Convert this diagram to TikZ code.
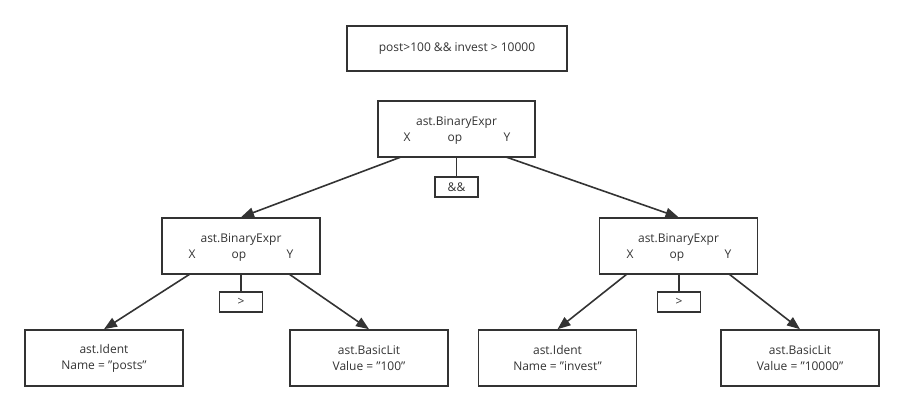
\documentclass[tikz,border=0pt]{standalone}
\usepackage{fontspec}
\setmainfont{Open Sans}
\usetikzlibrary{arrows.meta}
\definecolor{ink}{HTML}{333333}
\definecolor{txt}{HTML}{333333}
\newcommand{\qq}{\symbol{34}}
\begin{document}
\begin{tikzpicture}[x=1pt,y=-1pt,
  box/.style={draw=ink,line width=1.6pt,rectangle,inner sep=0pt,text=txt,font=\fontsize{12}{16}\selectfont,align=center},
  lbl/.style={inner sep=0pt,text=txt,font=\fontsize{12}{14}\selectfont,text height=9pt,text depth=3pt},
  link/.style={draw=ink,line width=1.6pt},
  arr/.style={link,-{Triangle[length=13pt,width=10pt]}}]
\useasboundingbox (0,0) rectangle (904,411);
% top expression
\node[box,minimum width=220pt,minimum height=45pt] (expr) at (457,48.5) {post>100 \&\& invest > 10000};
% root
\node[box,minimum width=157pt,minimum height=56pt] (root) at (456.5,129) {};
\node[lbl] (rt) at (456.5,123) {ast.BinaryExpr};
\node[lbl] (rx) at (407,139) {X};
\node[lbl] (rop) at (455,139) {op};
\node[lbl] (ry) at (507,139) {Y};
\node[box,minimum width=43pt,minimum height=20pt] (ramp) at (456.5,187) {\&\&};
\coordinate (rxs) at (401,157);
\coordinate (rys) at (506,157);
% left binary
\node[box,minimum width=158pt,minimum height=56pt] (lb) at (241,246) {};
\node[lbl] (lbt) at (241,240) {ast.BinaryExpr};
\node[lbl] (lbx) at (192,256) {X};
\node[lbl] (lbop) at (239,256) {op};
\node[lbl] (lby) at (290,256) {Y};
\node[box,minimum width=43pt,minimum height=20pt] (lgt) at (241,302) {>};
\coordinate (lbxs) at (190,274);
\coordinate (lbys) at (289,274);
% right binary
\node[box,minimum width=158pt,minimum height=56pt] (rb) at (678.5,246) {};
\node[lbl] (rbt) at (678.5,240) {ast.BinaryExpr};
\node[lbl] (rbx) at (630,256) {X};
\node[lbl] (rbop) at (677,256) {op};
\node[lbl] (rby) at (728,256) {Y};
\node[box,minimum width=43pt,minimum height=20pt] (rgt) at (679,302) {>};
\coordinate (rbxs) at (627,274);
\coordinate (rbys) at (729,274);
% leaves
\node[box,minimum width=158pt,minimum height=56pt] (li) at (104,358) {ast.Ident\\Name = \qq posts\qq};
\node[box,minimum width=158pt,minimum height=56pt] (ll) at (369,358) {ast.BasicLit\\Value = \qq 100\qq};
\node[box,minimum width=158pt,minimum height=56pt] (ri) at (557.5,358) {ast.Ident\\Name = \qq invest\qq};
\node[box,minimum width=158pt,minimum height=56pt] (rl) at (800,358) {ast.BasicLit\\Value = \qq 10000\qq};
% connectors
\draw[link] (root.south -| ramp.north) -- (ramp.north);
\draw[link] (lb.south -| lgt.north) -- (lgt.north);
\draw[link] (rb.south -| rgt.north) -- (rgt.north);
\draw[arr] (rxs) -- (lb.north);
\draw[arr] (rys) -- (rb.north);
\draw[arr] (lbxs) -- (li.north);
\draw[arr] (lbys) -- (ll.north);
\draw[arr] (rbxs) -- (ri.north);
\draw[arr] (rbys) -- (rl.north);
\end{tikzpicture}
\end{document}
